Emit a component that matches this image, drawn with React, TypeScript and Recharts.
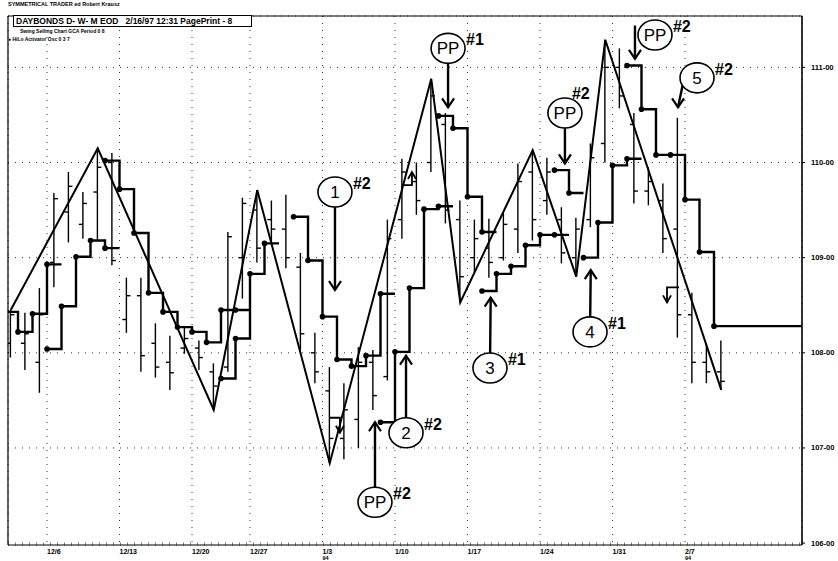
import React from 'react';
import {
  ComposedChart,
  Bar,
  Line,
  XAxis,
  YAxis,
  CartesianGrid,
  ReferenceDot,
  ReferenceLine,
} from 'recharts';

// ---- axes (day index 0 = 12/6/93) ----
const X_MIN = -2.69;
const X_MAX = 52.07;
const Y_MIN = 105.98;
const Y_MAX = 111.54;

const dateTickDays = [0, 5, 10, 14, 19, 24, 29, 34, 39, 44];
const dateTickLabels = ['12/6', '12/13', '12/20', '12/27', '1/3', '1/10', '1/17', '1/24', '1/31', '2/7'];
const dateTickYears = ['', '', '', '', '94', '', '', '', '', '94'];

const priceTicks = [106, 107, 108, 109, 110, 111];
const priceTickLabels = ['106-00', '107-00', '108-00', '109-00', '110-00', '111-00'];

// ---- daily OHLC bars ----
const barDays = [
  -3, -2, -1, 0, 1, 2, 3, 4, 5, 6, 7, 8, 9, 10, 11, 12, 13, 14, 15, 16, 17, 18, 19, 20, 21,
  22, 23, 24, 25, 26, 27, 28, 29, 30, 31, 32, 33, 34, 35, 36, 37, 38, 39, 40, 41, 42, 43, 44, 45, 46,
];
const barHigh = [
  108.45, 108.42, 108.68, 109.68, 109.9, 109.69, 110.15, 110.1, 108.79, 108.79, 108.31, 108.18, 108.27,
  108.13, 107.89, 109.27, 109.63, 109.71, 109.6, 109.66, 109.05, 108.21, 107.85, 107.68, 108.06, 108.03,
  109.4, 110.04, 110.0, 110.88, 110.52, 109.6, 109.4, 109.41, 109.47, 109.99, 110.13, 110.05, 109.53,
  109.42, 110.2, 111.29, 111.2, 110.52, 109.95, 109.78, 110.47, 108.63, 108.1, 108.13,
];
const barLow = [
  107.95, 107.82, 107.58, 108.69, 109.16, 109.2, 109.18, 108.92, 108.21, 107.8, 107.74, 107.61, 107.99,
  107.82, 107.4, 107.8, 108.57, 108.95, 109.15, 108.89, 108.03, 107.68, 106.84, 106.88, 107.0, 107.4,
  107.71, 109.2, 109.45, 109.9, 109.36, 108.53, 108.85, 108.79, 108.97, 109.05, 109.18, 109.45, 108.94,
  108.8, 109.32, 110.0, 110.57, 109.57, 109.55, 109.05, 108.16, 107.68, 107.68, 107.61,
];
const barOpen = [
  108.1, 108.1, 107.9, 108.95, 109.48, 109.35, 109.69, 110.0, 108.35, 108.6, 108.1, 107.9, 108.05,
  108.05, 107.8, 107.85, 109.0, 109.5, 109.4, 109.3, 108.9, 108.0, 107.6, 107.1, 107.3, 107.9,
  107.75, 109.4, 109.8, 110.0, 110.4, 109.4, 109.0, 109.1, 109.0, 109.3, 109.9, 109.6, 109.4,
  109.0, 109.4, 110.2, 111.0, 110.4, 109.7, 109.6, 109.3, 108.4, 107.9, 107.8,
];
const barClose = [
  108.4, 108.2, 108.4, 109.62, 109.75, 109.57, 109.95, 108.97, 108.6, 107.97, 107.85, 107.79, 108.15,
  107.95, 107.65, 109.22, 109.57, 109.1, 109.3, 109.0, 108.2, 107.8, 107.1, 107.4, 107.9, 107.55,
  109.2, 109.9, 109.6, 110.7, 109.5, 108.8, 109.2, 108.95, 109.35, 109.8, 109.4, 109.9, 109.05,
  109.3, 110.05, 111.0, 110.7, 109.7, 109.8, 109.2, 108.4, 107.9, 107.8, 107.7,
];

// ---- swing (zig-zag) line ----
const swingDays = [-3, 3, 11, 14, 19, 26, 28, 33, 36, 38, 46];
const swingPrices = [108.45, 110.15, 107.4, 109.71, 106.84, 110.88, 108.53, 110.13, 108.8, 111.29, 107.61];

// ---- HiLo activator step segments ----
const stairDays = [
  [-3, -2, -1, 0, 1],
  [0, 1, 2, 3, 4, 5],
  [4, 5, 6, 7, 8, 9, 10, 11, 12, 13, 14],
  [12, 13, 14, 15, 16],
  [17, 18, 19, 20, 21, 22, 23, 24],
  [23, 24, 25, 26, 27, 28],
  [27, 28, 29, 30, 31],
  [30, 31, 32, 33, 34, 35, 36],
  [35, 36, 37],
  [37, 38, 39, 40, 41],
  [40, 41, 42, 43, 44, 45, 46, 53],
];
const stairValues = [
  [108.43, 108.22, 108.41, 108.93, 108.93],
  [108.04, 108.49, 109.01, 109.18, 109.1, 109.1],
  [110.02, 109.72, 109.26, 108.63, 108.43, 108.27, 108.22, 108.11, 108.45, 108.45, 108.45],
  [107.73, 108.15, 108.83, 109.15, 109.15],
  [109.43, 108.97, 108.38, 107.93, 107.86, 107.97, 108.62, 108.62],
  [107.27, 108.01, 108.68, 109.51, 109.54, 109.54],
  [110.49, 110.36, 109.64, 109.27, 109.27],
  [108.65, 108.83, 108.91, 109.13, 109.24, 109.24, 109.24],
  [109.92, 109.68, 109.68],
  [109.0, 109.37, 109.97, 110.04, 110.04],
  [111.02, 110.56, 110.08, 110.08, 109.61, 109.06, 108.28, 108.28],
];

// ---- callouts ----
const calloutLabels = ['1', '2', 'PP', 'PP', '3', '4', 'PP', 'PP', '5'];
const calloutTags = ['#2', '#2', '#2', '#1', '#1', '#1', '#2', '#2', '#2'];
const calloutDay = [19.86, 24.76, 22.62, 27.66, 30.55, 37.45, 35.72, 41.93, 44.83];
const calloutPrice = [109.69, 107.16, 106.43, 111.2, 107.84, 108.22, 110.52, 111.34, 110.89];
const arrowFromDay = [19.86, 24.76, 22.62, 27.66, 30.55, 37.45, 35.72, 40.55, 43.93];
const arrowFromPrice = [109.69, 107.16, 106.43, 111.2, 107.84, 108.22, 110.52, 111.44, 110.88];
const arrowTipDay = [19.86, 24.76, 22.62, 27.66, 30.6, 37.5, 35.72, 40.55, 43.52];
const arrowTipPrice = [108.66, 107.97, 107.27, 110.58, 108.58, 108.87, 109.99, 111.09, 110.58];

// small hooked signal arrows
const hookDay = [25.17, 20.2, 42.76];
const hookPrice = [109.9, 107.16, 108.53];
const hookDir = ['up', 'down', 'down'];
const hookSide = ['left', 'left', 'right'];

// ---- tables built for recharts ----
const barRows = barDays.map((d, i) => ({
  x: d + 0.5,
  range: [barLow[i], barHigh[i]],
  high: barHigh[i],
  low: barLow[i],
  open: barOpen[i],
  close: barClose[i],
}));
const swingRows = swingDays.map((d, i) => ({ x: d + 0.5, v: swingPrices[i] }));
const stairRows = stairDays.map((days, k) =>
  days.map((d, i) => ({ x: d, v: stairValues[k][i], last: i === days.length - 1 }))
);

const FONT = '"Liberation Sans", Arial, Helvetica, sans-serif';
const INK = '#000';

const OhlcShape = (props: any) => {
  const { x, y, width, height, payload } = props;
  if (!payload || x == null || y == null) return null;
  const cx = x + width / 2;
  const top = Math.min(y, y + height);
  const bot = Math.max(y, y + height);
  const span = payload.high - payload.low || 1;
  const py = (p: number) => top + ((payload.high - p) / span) * (bot - top);
  return (
    <g stroke={INK} strokeWidth={1.4}>
      <line x1={cx} x2={cx} y1={top} y2={bot} />
      <line x1={cx - 4} x2={cx} y1={py(payload.open)} y2={py(payload.open)} />
      <line x1={cx} x2={cx + 4} y1={py(payload.close)} y2={py(payload.close)} />
    </g>
  );
};

const StairDot = (props: any) => {
  const { cx, cy, payload, index } = props;
  if (payload?.last || cx == null || cy == null) return <g key={`d${index}`} />;
  return <circle key={`d${index}`} cx={cx} cy={cy} r={2.8} fill={INK} stroke="none" />;
};

const XTick = (props: any) => {
  const { x, y, payload } = props;
  const i = dateTickDays.indexOf(payload.value);
  if (i < 0) return null;
  return (
    <g>
      <text x={x} y={y + 7} fontSize={7} fontWeight="bold" fontFamily={FONT} fill={INK} textAnchor="start">
        {dateTickLabels[i]}
      </text>
      {dateTickYears[i] ? (
        <text x={x} y={y + 13} fontSize={5.5} fontWeight="bold" fontFamily={FONT} fill={INK} textAnchor="start">
          {dateTickYears[i]}
        </text>
      ) : null}
    </g>
  );
};

const YTick = (props: any) => {
  const { x, y, payload } = props;
  const i = priceTicks.indexOf(payload.value);
  if (i < 0) return null;
  return (
    <text x={x + 4} y={y + 2.5} fontSize={7.5} fontWeight="bold" fontFamily={FONT} fill={INK} textAnchor="start">
      {priceTickLabels[i]}
    </text>
  );
};

const chevron = (cx: number, cy: number, dir: string, w = 6, h = 9) => {
  const s = dir === 'up' ? 1 : -1;
  return `M${cx - w},${cy + s * h} L${cx},${cy} L${cx + w},${cy + s * h}`;
};

const makeCallout = (i: number) => (p: any) => {
  const { cx, cy } = p;
  if (cx == null || cy == null) return <g />;
  const tagAbove = i === 6;
  const tx = tagAbove ? cx + 7 : cx + 18;
  const ty = tagAbove ? cy - 14 : cy - 3;
  return (
    <g>
      <ellipse cx={cx} cy={cy} rx={17} ry={15} fill="#fff" stroke={INK} strokeWidth={1.6} />
      <text x={cx} y={cy + 6} textAnchor="middle" fontSize={17} fontFamily={FONT} fill={INK}>
        {calloutLabels[i]}
      </text>
      <text x={tx} y={ty} fontSize={16} fontWeight="bold" fontFamily={FONT} fill={INK}>
        {calloutTags[i]}
      </text>
    </g>
  );
};

const makeArrowHead = (i: number) => (p: any) => {
  const { cx, cy } = p;
  if (cx == null || cy == null) return <g />;
  const dir = arrowTipPrice[i] > arrowFromPrice[i] ? 'up' : 'down';
  return <path d={chevron(cx, cy, dir)} fill="none" stroke={INK} strokeWidth={2.2} />;
};

const makeHook = (i: number) => (p: any) => {
  const { cx, cy } = p;
  if (cx == null || cy == null) return <g />;
  const up = hookDir[i] === 'up';
  const baseY = up ? cy + 13 : cy - 15;
  const hx = hookSide[i] === 'left' ? cx - 10 : cx + 12;
  return (
    <g fill="none" stroke={INK} strokeWidth={1.8}>
      <path d={`M${hx},${baseY} L${cx},${baseY} L${cx},${cy}`} />
      <path d={chevron(cx, cy, up ? 'up' : 'down', 4, 7)} />
    </g>
  );
};

export default function App() {
  return (
    <div
      style={{
        position: 'absolute',
        left: 0,
        top: 0,
        width: 838,
        height: 561,
        background: '#fff',
        fontFamily: FONT,
      }}
    >
      <ComposedChart
        width={838}
        height={561}
        data={barRows}
        margin={{ top: 16, right: 0, bottom: 0, left: 8 }}
      >
        <CartesianGrid stroke="#333" strokeDasharray="1 6" strokeWidth={1} />
        <XAxis
          xAxisId={0}
          dataKey="x"
          type="number"
          domain={[X_MIN, X_MAX]}
          allowDataOverflow
          ticks={dateTickDays}
          tick={<XTick />}
          tickLine={false}
          tickSize={0}
          height={16}
          axisLine={{ stroke: INK, strokeWidth: 1.2 }}
          interval={0}
        />
        <YAxis
          yAxisId={0}
          orientation="right"
          type="number"
          domain={[Y_MIN, Y_MAX]}
          allowDataOverflow
          ticks={priceTicks}
          tick={<YTick />}
          tickSize={3}
          tickLine={{ stroke: INK }}
          width={36}
          axisLine={{ stroke: INK, strokeWidth: 1.6 }}
          interval={0}
        />
        <ReferenceLine x={X_MIN} stroke={INK} strokeWidth={1.2} />
        <ReferenceLine y={Y_MAX} stroke={INK} strokeWidth={1.2} />

        <Bar dataKey="range" barSize={8} shape={<OhlcShape />} isAnimationActive={false} />

        <Line
          data={swingRows}
          dataKey="v"
          type="linear"
          stroke={INK}
          strokeWidth={2}
          dot={false}
          activeDot={false}
          isAnimationActive={false}
        />
        {stairRows.map((rows, k) => (
          <Line
            key={`stair${k}`}
            data={rows}
            dataKey="v"
            type="stepAfter"
            stroke={INK}
            strokeWidth={2.4}
            dot={StairDot}
            activeDot={false}
            isAnimationActive={false}
          />
        ))}

        {hookDay.map((d, i) => (
          <ReferenceDot key={`hook${i}`} x={d} y={hookPrice[i]} r={0} shape={makeHook(i)} />
        ))}

        {calloutLabels.map((_, i) => (
          <ReferenceLine
            key={`shaft${i}`}
            segment={[
              { x: arrowFromDay[i], y: arrowFromPrice[i] },
              { x: arrowTipDay[i], y: arrowTipPrice[i] },
            ]}
            stroke={INK}
            strokeWidth={2.4}
          />
        ))}
        {calloutLabels.map((_, i) => (
          <ReferenceDot key={`head${i}`} x={arrowTipDay[i]} y={arrowTipPrice[i]} r={0} shape={makeArrowHead(i)} />
        ))}
        {calloutLabels.map((_, i) => (
          <ReferenceDot key={`call${i}`} x={calloutDay[i]} y={calloutPrice[i]} r={0} shape={makeCallout(i)} />
        ))}
      </ComposedChart>

      <div
        style={{
          position: 'absolute',
          left: 8,
          top: 1,
          fontSize: 5.5,
          fontWeight: 'bold',
          lineHeight: '7px',
          whiteSpace: 'nowrap',
        }}
      >
        SYMMETRICAL TRADER ed Robert Krausz
      </div>
      <div
        style={{
          position: 'absolute',
          left: 13,
          top: 15,
          width: 235,
          height: 10,
          border: '1.5px solid #000',
          background: '#fff',
          fontSize: 8.5,
          fontWeight: 'bold',
          lineHeight: '10px',
          paddingLeft: 2,
          whiteSpace: 'nowrap',
          overflow: 'hidden',
        }}
      >
        DAYBONDS D- W- M EOD&nbsp;&nbsp; 2/16/97 12:31 PagePrint - 8
      </div>
      <div
        style={{
          position: 'absolute',
          left: 20,
          top: 28,
          fontSize: 5,
          fontWeight: 'bold',
          lineHeight: '6px',
          whiteSpace: 'nowrap',
        }}
      >
        Swing Selling Chart GCA Period 0 8
      </div>
      <div
        style={{
          position: 'absolute',
          left: 8,
          top: 36,
          fontSize: 5,
          fontWeight: 'bold',
          lineHeight: '6px',
          whiteSpace: 'nowrap',
        }}
      >
        ● HiLo Activator Osc 0 3 7
      </div>
    </div>
  );
}
